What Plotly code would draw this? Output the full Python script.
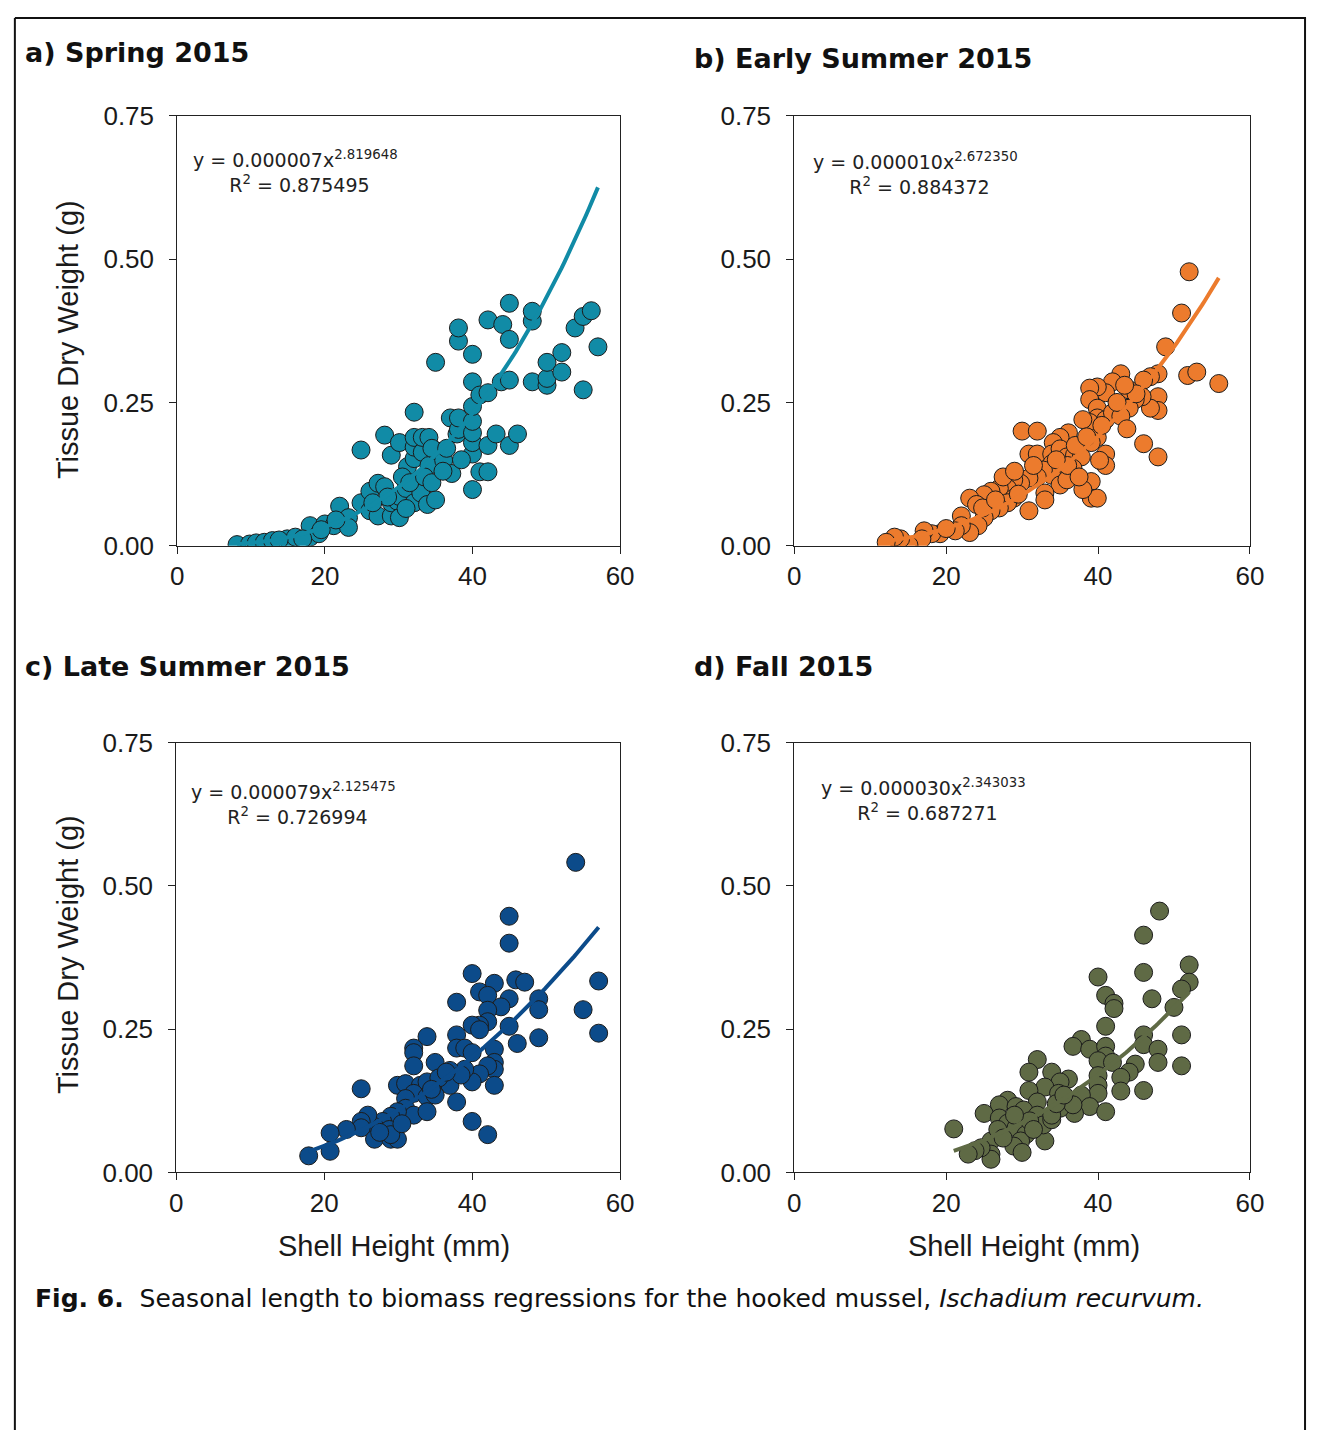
import numpy as np
import plotly.graph_objects as go

W, H = 1321, 1445

# ---- measured shell height (mm) and tissue dry weight (g) per season ----
spring_x = [8.1, 9.8, 10.7, 11.8, 12.9, 14.9, 16.0, 18.0, 18.0, 19.2, 20.0, 21.2, 22.0, 23.2, 23.2,
            24.9, 24.9, 26.1, 26.1, 27.2, 27.2, 28.1, 28.1, 29.0, 29.0, 29.0, 29.8, 30.1, 30.1, 30.1,
            31.0, 31.2, 32.1, 32.1, 32.1, 32.1, 32.1, 33.0, 33.2, 33.2, 33.9, 34.1, 34.1, 35.0, 35.0,
            35.0, 36.1, 37.0, 37.2, 37.9, 38.1, 38.1, 38.1, 38.1, 40.0, 40.0, 40.0, 40.0, 40.0, 40.0,
            40.0, 40.0, 41.0, 41.0, 42.1, 42.1, 42.1, 42.1, 43.2, 43.9, 44.1, 45.0, 45.0, 45.0, 45.0,
            46.1, 48.1, 48.1, 48.1, 50.1, 50.1, 50.1, 52.1, 52.1, 53.9, 55.0, 55.0, 56.1, 57.0,
            30.5, 31.5, 33.5, 34.5, 36.0, 28.5, 26.5, 34.5, 36.5, 38.5, 31.0, 19.5, 21.5, 17.0, 13.8]
spring_y = [0.002, 0.003, 0.005, 0.006, 0.009, 0.012, 0.015, 0.015, 0.035, 0.021, 0.038, 0.035, 0.069, 0.049, 0.032,
            0.075, 0.167, 0.061, 0.095, 0.052, 0.109, 0.103, 0.193, 0.052, 0.075, 0.158, 0.078, 0.049, 0.086, 0.180,
            0.100, 0.138, 0.075, 0.152, 0.172, 0.189, 0.233, 0.092, 0.163, 0.189, 0.072, 0.140, 0.189, 0.080, 0.166,
            0.320, 0.149, 0.223, 0.126, 0.195, 0.203, 0.223, 0.357, 0.380, 0.098, 0.160, 0.180, 0.197, 0.217, 0.243,
            0.286, 0.334, 0.129, 0.263, 0.129, 0.175, 0.267, 0.394, 0.195, 0.286, 0.386, 0.175, 0.289, 0.360, 0.423,
            0.195, 0.286, 0.392, 0.409, 0.280, 0.292, 0.320, 0.303, 0.337, 0.380, 0.272, 0.400, 0.410, 0.347,
            0.120, 0.110, 0.120, 0.110, 0.130, 0.085, 0.075, 0.170, 0.170, 0.150, 0.065, 0.028, 0.045, 0.012, 0.010]

early_x = [52.0, 51.0, 48.9, 51.8, 53.0, 55.9, 47.9, 46.9, 46.0, 47.9, 47.9, 46.9, 45.8, 44.9, 44.1,
           43.0, 41.9, 44.1, 41.0, 39.9, 38.9, 38.9, 39.9, 39.9, 38.9, 38.0, 41.0, 41.9, 43.0, 43.8,
           46.0, 47.9, 39.9, 39.1, 41.0, 41.0, 40.2, 39.1, 39.1, 39.9, 38.0, 36.1, 35.0, 34.1, 30.0,
           32.0, 30.9, 32.0, 33.9, 35.0, 35.9, 33.9, 36.9, 37.8, 36.7, 35.0, 33.9, 32.8, 32.0, 30.9,
           29.8, 28.9, 28.1, 27.0, 25.9, 25.0, 23.1, 35.0, 35.9, 33.0, 33.0, 30.9, 28.9, 28.1, 27.0,
           25.9, 25.0, 24.2, 23.1, 22.0, 22.0, 21.2, 24.0, 24.8, 19.2, 18.1, 17.1, 16.8, 15.1, 14.0,
           13.2, 12.1, 37.0, 38.5, 42.5, 45.0, 36.0, 31.5, 29.5, 26.5, 20.0, 27.5, 29.0, 34.5, 37.5,
           40.5, 43.5]
early_y = [0.478, 0.406, 0.347, 0.297, 0.303, 0.283, 0.300, 0.295, 0.289, 0.260, 0.236, 0.240, 0.260, 0.255, 0.240,
           0.300, 0.286, 0.272, 0.267, 0.277, 0.275, 0.255, 0.240, 0.223, 0.215, 0.220, 0.220, 0.232, 0.226, 0.204,
           0.178, 0.155, 0.189, 0.180, 0.160, 0.140, 0.149, 0.112, 0.083, 0.083, 0.098, 0.197, 0.189, 0.180, 0.200,
           0.200, 0.160, 0.160, 0.160, 0.169, 0.155, 0.143, 0.158, 0.155, 0.135, 0.132, 0.123, 0.132, 0.120, 0.118,
           0.109, 0.115, 0.100, 0.100, 0.095, 0.089, 0.083, 0.106, 0.115, 0.092, 0.080, 0.061, 0.083, 0.075, 0.066,
           0.061, 0.049, 0.035, 0.023, 0.052, 0.035, 0.026, 0.072, 0.066, 0.021, 0.021, 0.026, 0.012, 0.001, 0.012,
           0.015, 0.006, 0.175, 0.190, 0.250, 0.265, 0.140, 0.140, 0.090, 0.080, 0.030, 0.120, 0.130, 0.150, 0.120,
           0.210, 0.280]

late_x = [54.0, 45.0, 45.0, 40.0, 45.9, 47.1, 57.1, 43.0, 41.0, 42.1, 45.0, 49.0, 49.0, 43.9, 42.1,
          37.9, 55.0, 57.1, 49.0, 46.1, 45.0, 42.1, 41.0, 40.0, 41.0, 37.9, 33.9, 32.1, 32.1, 37.9,
          39.0, 40.0, 43.0, 43.0, 43.0, 42.1, 41.0, 40.0, 39.0, 37.0, 35.0, 32.1, 43.0, 37.9, 40.0,
          42.1, 25.0, 29.9, 31.0, 33.0, 33.9, 36.1, 37.0, 32.1, 33.9, 35.0, 31.0, 31.0, 32.1, 33.9,
          29.9, 29.0, 27.9, 26.8, 25.9, 25.0, 25.0, 23.0, 20.8, 20.8, 17.9, 26.8, 29.0, 29.9, 28.8,
          29.0, 35.5, 38.5, 34.5, 30.5, 27.5, 36.5]
late_y = [0.541, 0.447, 0.400, 0.347, 0.336, 0.332, 0.334, 0.330, 0.315, 0.309, 0.303, 0.303, 0.284, 0.289, 0.283,
          0.297, 0.284, 0.243, 0.235, 0.225, 0.255, 0.263, 0.257, 0.257, 0.249, 0.240, 0.237, 0.217, 0.209, 0.217,
          0.217, 0.209, 0.215, 0.192, 0.180, 0.186, 0.172, 0.158, 0.180, 0.178, 0.192, 0.186, 0.152, 0.123, 0.089,
          0.066, 0.146, 0.152, 0.155, 0.152, 0.158, 0.160, 0.152, 0.138, 0.132, 0.135, 0.129, 0.112, 0.100, 0.106,
          0.106, 0.098, 0.089, 0.080, 0.100, 0.089, 0.078, 0.075, 0.069, 0.037, 0.029, 0.058, 0.058, 0.058, 0.075,
          0.066, 0.165, 0.170, 0.145, 0.085, 0.070, 0.175]

fall_x = [48.1, 46.0, 46.0, 40.0, 52.0, 52.0, 51.0, 41.0, 42.1, 42.1, 47.1, 50.0, 41.0, 51.0, 46.0,
          46.0, 47.9, 47.9, 51.0, 37.8, 36.7, 38.9, 41.0, 41.0, 40.0, 41.9, 44.9, 44.1, 43.0, 40.0,
          40.0, 40.0, 43.0, 46.0, 32.0, 30.9, 33.9, 36.1, 35.0, 33.0, 30.9, 34.8, 37.8, 38.9, 41.0,
          36.9, 35.0, 32.0, 28.1, 27.0, 29.2, 30.2, 32.0, 25.0, 27.0, 28.1, 29.2, 30.5, 33.0, 29.8,
          28.9, 30.0, 25.9, 25.9, 25.9, 24.6, 23.8, 22.9, 21.0, 26.8, 32.8, 33.9, 33.9, 36.7, 31.0,
          34.5, 29.0, 27.5, 31.5, 35.5]
fall_y = [0.456, 0.414, 0.349, 0.341, 0.362, 0.332, 0.320, 0.309, 0.295, 0.286, 0.303, 0.288, 0.255, 0.240, 0.240,
          0.223, 0.215, 0.192, 0.186, 0.232, 0.220, 0.215, 0.220, 0.203, 0.195, 0.192, 0.189, 0.175, 0.166, 0.169,
          0.152, 0.138, 0.142, 0.143, 0.197, 0.175, 0.175, 0.163, 0.158, 0.149, 0.143, 0.138, 0.135, 0.115, 0.106,
          0.103, 0.112, 0.123, 0.126, 0.118, 0.115, 0.109, 0.100, 0.103, 0.095, 0.086, 0.078, 0.066, 0.055, 0.055,
          0.046, 0.035, 0.055, 0.032, 0.023, 0.043, 0.038, 0.032, 0.076, 0.075, 0.083, 0.092, 0.100, 0.118, 0.090,
          0.120, 0.100, 0.060, 0.075, 0.135]

# ---- power-law regressions y = a * x^b ----
panel_titles = ["a) Spring 2015", "b) Early Summer 2015", "c) Late Summer 2015", "d) Fall 2015"]
fit_a = ["0.000007", "0.000010", "0.000079", "0.000030"]
fit_b = ["2.819648", "2.672350", "2.125475", "2.343033"]
fit_r2 = ["0.875495", "0.884372", "0.726994", "0.687271"]
colors = ["#118ba6", "#ec7b2d", "#0c4b8a", "#5f6a45"]

x_ticks = [0, 20, 40, 60]
y_ticks = [0.0, 0.25, 0.50, 0.75]

series = [(spring_x, spring_y), (early_x, early_y), (late_x, late_y), (fall_x, fall_y)]

# plot boxes in pixels: left, right, top, bottom
boxes = [(173, 623, 103, 542), (800, 1263, 103, 542),
         (172, 623, 743, 1182), (800, 1263, 743, 1182)]
title_pos = [(16, 38), (696, 44), (16, 665), (696, 665)]
# left edge and vertical centre of each two-line equation block
eq_pos = [(187, 160), (817, 162), (185, 805), (825, 801)]


def fx(px):
    return px / W


def fy(py):
    return 1 - py / H


fig = go.Figure()
annotations = []
layout_axes = {}

tick_font = dict(family="Liberation Sans, Arial, sans-serif", size=26, color="#1a1a1a")
eq_indent = "\u00a0" * 6

for i, ((xs, ys), color, box) in enumerate(zip(series, colors, boxes)):
    n = "" if i == 0 else str(i + 1)
    xa, ya = "x" + n, "y" + n
    fig.add_trace(go.Scatter(
        x=xs, y=ys, mode="markers", xaxis=xa, yaxis=ya, showlegend=False,
        marker=dict(size=18, color=color, line=dict(color="#1c1c1c", width=1)),
    ))
    a, b = float(fit_a[i]), float(fit_b[i])
    xf = np.linspace(min(xs), max(xs), 120)
    fig.add_trace(go.Scatter(
        x=xf, y=a * xf ** b, mode="lines", xaxis=xa, yaxis=ya, showlegend=False,
        line=dict(color=color, width=4),
    ))

    l, r, t, btm = box
    common = dict(showline=True, linecolor="#222", linewidth=1, mirror=True,
                  ticks="outside", ticklen=7, tickwidth=1, tickcolor="#222",
                  showgrid=False, zeroline=False, tickfont=tick_font)
    layout_axes["xaxis" + n] = dict(domain=[fx(l), fx(r)], anchor=ya, range=[0, 60],
                                    tickvals=x_ticks, ticklabelstandoff=0, **common)
    layout_axes["yaxis" + n] = dict(domain=[fy(btm), fy(t)], anchor=xa, range=[0, 0.75],
                                    tickvals=y_ticks, tickformat=".2f", ticklabelstandoff=10,
                                    **common)

    # panel heading
    tx, ty = title_pos[i]
    annotations.append(dict(text="<b>" + panel_titles[i] + "</b>", x=fx(tx), y=fy(ty),
                            xref="paper", yref="paper", xanchor="left", yanchor="middle",
                            showarrow=False,
                            font=dict(family="DejaVu Sans", size=27, color="#111")))
    # regression equation with R² on an indented second line
    ex, ey = eq_pos[i]
    annotations.append(dict(
        text="y = " + fit_a[i] + "x<sup>" + fit_b[i] + "</sup><br>"
             + eq_indent + "R<sup>2</sup> = " + fit_r2[i],
        x=fx(ex), y=fy(ey), xref="paper", yref="paper", align="left",
        xanchor="left", yanchor="middle", showarrow=False,
        font=dict(family="DejaVu Sans", size=19, color="#222")))

title_font = dict(family="Liberation Sans, Arial, sans-serif", size=29, color="#1a1a1a")
for cy in (332, 960):
    annotations.append(dict(text="Tissue Dry Weight (g)", textangle=-90, x=fx(62), y=fy(cy),
                            xref="paper", yref="paper", xanchor="center", yanchor="middle",
                            showarrow=False, font=title_font))
for cx in (393, 1033):
    annotations.append(dict(text="Shell Height (mm)", x=fx(cx), y=fy(1257),
                            xref="paper", yref="paper", xanchor="center", yanchor="middle",
                            showarrow=False, font=title_font))

annotations.append(dict(
    text="<b>Fig. 6.</b>\u00a0 Seasonal length to biomass regressions for the hooked mussel, "
         "<i>Ischadium recurvum.</i>",
    x=fx(26), y=fy(1311), xref="paper", yref="paper", xanchor="left", yanchor="middle",
    showarrow=False, font=dict(family="DejaVu Sans", size=25, color="#111")))

# outer frame of the figure: left, top and right edges (open at the bottom)
frame = dict(type="line", xref="paper", yref="paper", line=dict(color="#111", width=2))
shapes = [
    dict(frame, x0=fx(8), x1=fx(8), y0=0, y1=fy(3)),
    dict(frame, x0=fx(8), x1=fx(1320), y0=fy(3), y1=fy(3)),
    dict(frame, x0=fx(1319), x1=fx(1319), y0=0, y1=fy(3)),
]

fig.update_layout(
    width=W, height=H, autosize=False,
    margin=dict(l=0, r=0, t=0, b=0),
    paper_bgcolor="white", plot_bgcolor="white",
    annotations=annotations,
    shapes=shapes,
    **layout_axes,
)

fig.write_html("out.html")
